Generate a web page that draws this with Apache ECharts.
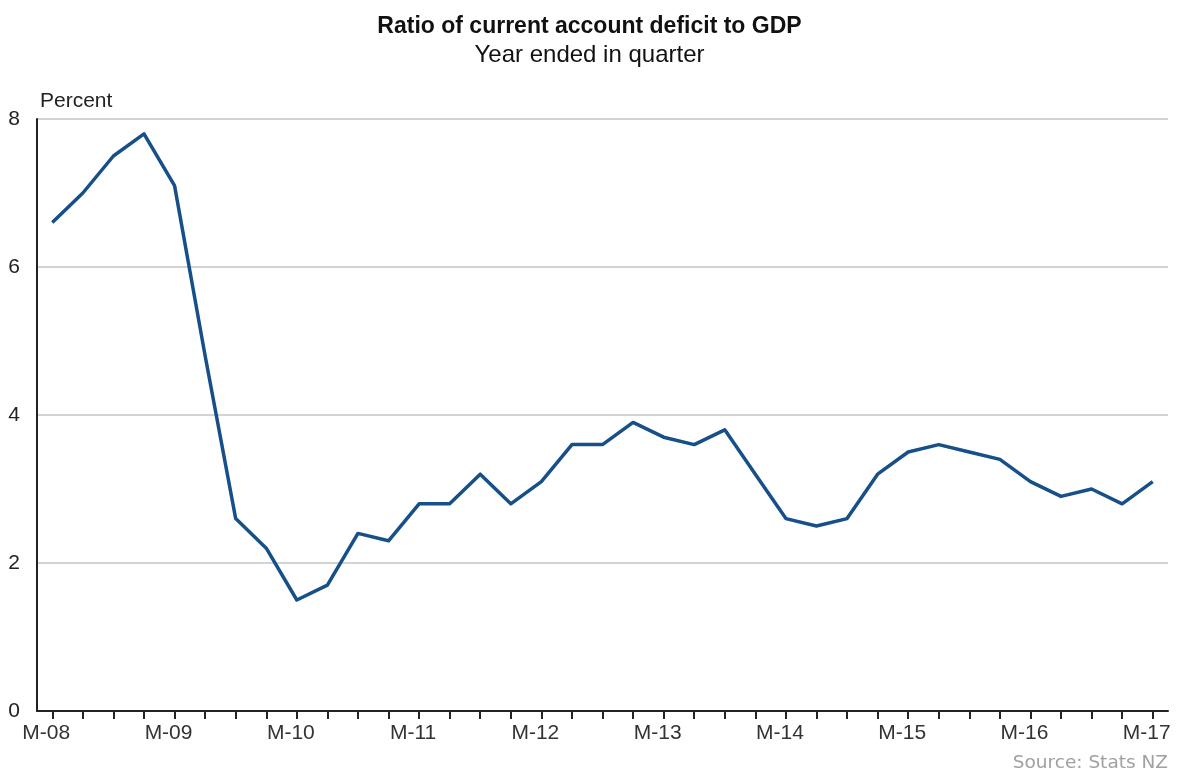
<!DOCTYPE html>
<html>
<head>
<meta charset="utf-8">
<script src="https://cdn.jsdelivr.net/npm/echarts@6/dist/echarts.min.js"></script>
<style>
html,body{margin:0;padding:0;background:#fff;}
#chart{width:1179px;height:768px;}
</style>
</head>
<body>
<div id="chart"></div>
<script>
const quarters = [
  'M-08','J-08','S-08','D-08',
  'M-09','J-09','S-09','D-09',
  'M-10','J-10','S-10','D-10',
  'M-11','J-11','S-11','D-11',
  'M-12','J-12','S-12','D-12',
  'M-13','J-13','S-13','D-13',
  'M-14','J-14','S-14','D-14',
  'M-15','J-15','S-15','D-15',
  'M-16','J-16','S-16','D-16',
  'M-17'
];
const deficitRatio = [
  6.6, 7.0, 7.5, 7.8,
  7.1, 4.8, 2.6, 2.2,
  1.5, 1.7, 2.4, 2.3,
  2.8, 2.8, 3.2, 2.8,
  3.1, 3.6, 3.6, 3.9,
  3.7, 3.6, 3.8, 3.2,
  2.6, 2.5, 2.6, 3.2,
  3.5, 3.6, 3.5, 3.4,
  3.1, 2.9, 3.0, 2.8,
  3.1
];
const yTicks = [0, 2, 4, 6, 8];

const font = '"Liberation Sans", Arial, sans-serif';
const chart = echarts.init(document.getElementById('chart'));
chart.setOption({
  backgroundColor: '#ffffff',
  animation: false,
  title: [
    {
      text: 'Ratio of current account deficit to GDP',
      left: 'center', top: 10,
      textStyle: {fontFamily: font, fontSize: 23, fontWeight: 'bold', color: '#111'}
    },
    {
      text: 'Year ended in quarter',
      left: 'center', top: 38,
      textStyle: {fontFamily: font, fontSize: 24, fontWeight: 'normal', color: '#111'}
    },
    {
      text: 'Source: Stats NZ',
      right: 6, top: 749,
      textStyle: {fontFamily: '"DejaVu Sans", Verdana, sans-serif', fontSize: 18.5, fontWeight: 'normal', color: '#a0a0a0'}
    }
  ],
  grid: {left: 37, right: 11, top: 119, bottom: 57, containLabel: false},
  xAxis: {
    type: 'category',
    data: quarters,
    boundaryGap: true,
    axisLine: {lineStyle: {color: '#222', width: 2}},
    axisTick: {show: true, alignWithLabel: true, interval: 0, length: 8, lineStyle: {color: '#222', width: 2}},
    axisLabel: {
      interval: 3,
      margin: 12,
      padding: [0, 12, 0, 0],
      fontFamily: font, fontSize: 21, color: '#333'
    },
    splitLine: {show: false}
  },
  yAxis: {
    type: 'value',
    min: yTicks[0], max: yTicks[yTicks.length - 1], interval: 2,
    name: 'Percent',
    nameLocation: 'end',
    nameGap: 7,
    nameTextStyle: {fontFamily: font, fontSize: 21, color: '#222', align: 'left', padding: [0, 0, 0, 3]},
    axisLine: {show: true, lineStyle: {color: '#222', width: 2}},
    axisTick: {show: false},
    axisLabel: {margin: 17, padding: [8, 0, 0, 0], fontFamily: font, fontSize: 21, color: '#222'},
    splitLine: {lineStyle: {color: '#c4c4c4', width: 1.5}}
  },
  series: [{
    type: 'line',
    data: deficitRatio,
    showSymbol: false,
    symbol: 'none',
    lineStyle: {color: '#174f88', width: 3.5, join: 'round'},
    itemStyle: {color: '#174f88'}
  }]
});
</script>
</body>
</html>
